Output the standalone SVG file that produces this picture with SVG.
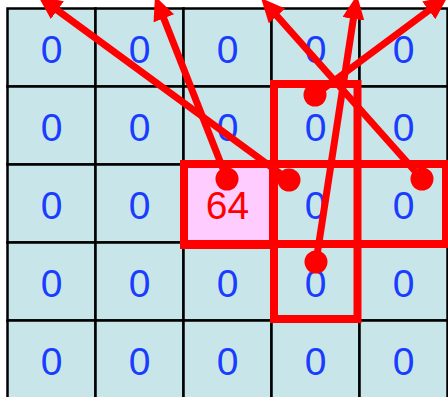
<svg xmlns="http://www.w3.org/2000/svg" width="448" height="397" viewBox="0 0 448 397">
<defs>
<style>
.c{fill:#c8e6ea;stroke:#000;stroke-width:2.5}
.p{fill:#ffccff;stroke:#000;stroke-width:2.5}
.t{font-family:"Liberation Sans",Arial,sans-serif;font-size:39px;fill:#1a3cff;text-anchor:middle}
.tr{fill:#ff0000}
.box{fill:none;stroke:#ff0000;stroke-width:8}
.arr{stroke:#ff0000;stroke-width:7;fill:none;marker-end:url(#ah)}
.dot{fill:#ff0000}
</style>
<marker id="ah" markerUnits="userSpaceOnUse" markerWidth="24" markerHeight="22" viewBox="0 0 24 22" refX="12" refY="11" orient="auto">
<path d="M0,0 L24,11 L0,22 z" fill="#ff0000"/>
</marker>
</defs>
<rect width="448" height="397" fill="#ffffff"/>
<g id="r0c0"><rect class="c" x="7.5" y="8.5" width="88" height="78"/><text class="t" x="51.5" y="62.5">0</text></g>
<g id="r0c1"><rect class="c" x="95.5" y="8.5" width="88" height="78"/><text class="t" x="139.5" y="62.5">0</text></g>
<g id="r0c2"><rect class="c" x="183.5" y="8.5" width="88" height="78"/><text class="t" x="227.5" y="62.5">0</text></g>
<g id="r0c3"><rect class="c" x="271.5" y="8.5" width="88" height="78"/><text class="t" x="315.5" y="62.5">0</text></g>
<g id="r0c4"><rect class="c" x="359.5" y="8.5" width="88" height="78"/><text class="t" x="403.5" y="62.5">0</text></g>
<g id="r1c0"><rect class="c" x="7.5" y="86.5" width="88" height="78"/><text class="t" x="51.5" y="140.5">0</text></g>
<g id="r1c1"><rect class="c" x="95.5" y="86.5" width="88" height="78"/><text class="t" x="139.5" y="140.5">0</text></g>
<g id="r1c2"><rect class="c" x="183.5" y="86.5" width="88" height="78"/><text class="t" x="227.5" y="140.5">0</text></g>
<g id="r1c3"><rect class="c" x="271.5" y="86.5" width="88" height="78"/><text class="t" x="315.5" y="140.5">0</text></g>
<g id="r1c4"><rect class="c" x="359.5" y="86.5" width="88" height="78"/><text class="t" x="403.5" y="140.5">0</text></g>
<g id="r2c0"><rect class="c" x="7.5" y="164.5" width="88" height="78"/><text class="t" x="51.5" y="218.5">0</text></g>
<g id="r2c1"><rect class="c" x="95.5" y="164.5" width="88" height="78"/><text class="t" x="139.5" y="218.5">0</text></g>
<g id="r2c2"><rect class="p" x="183.5" y="164.5" width="88" height="78"/><text class="t tr" x="227.5" y="218.5">64</text></g>
<g id="r2c3"><rect class="c" x="271.5" y="164.5" width="88" height="78"/><text class="t" x="315.5" y="218.5">0</text></g>
<g id="r2c4"><rect class="c" x="359.5" y="164.5" width="88" height="78"/><text class="t" x="403.5" y="218.5">0</text></g>
<g id="r3c0"><rect class="c" x="7.5" y="242.5" width="88" height="78"/><text class="t" x="51.5" y="296.5">0</text></g>
<g id="r3c1"><rect class="c" x="95.5" y="242.5" width="88" height="78"/><text class="t" x="139.5" y="296.5">0</text></g>
<g id="r3c2"><rect class="c" x="183.5" y="242.5" width="88" height="78"/><text class="t" x="227.5" y="296.5">0</text></g>
<g id="r3c3"><rect class="c" x="271.5" y="242.5" width="88" height="78"/><text class="t" x="315.5" y="296.5">0</text></g>
<g id="r3c4"><rect class="c" x="359.5" y="242.5" width="88" height="78"/><text class="t" x="403.5" y="296.5">0</text></g>
<g id="r4c0"><rect class="c" x="7.5" y="320.5" width="88" height="78"/><text class="t" x="51.5" y="374.5">0</text></g>
<g id="r4c1"><rect class="c" x="95.5" y="320.5" width="88" height="78"/><text class="t" x="139.5" y="374.5">0</text></g>
<g id="r4c2"><rect class="c" x="183.5" y="320.5" width="88" height="78"/><text class="t" x="227.5" y="374.5">0</text></g>
<g id="r4c3"><rect class="c" x="271.5" y="320.5" width="88" height="78"/><text class="t" x="315.5" y="374.5">0</text></g>
<g id="r4c4"><rect class="c" x="359.5" y="320.5" width="88" height="78"/><text class="t" x="403.5" y="374.5">0</text></g>
<g id="highlights">
<rect class="box" x="184" y="164" width="89" height="81"/>
<rect class="box" x="274" y="84" width="83.5" height="235"/>
<rect class="box" x="184" y="164" width="262" height="80"/>
</g>
<g id="connectors">
<line class="arr" x1="289" y1="180" x2="47.7" y2="3.1"/>
<line class="arr" x1="227" y1="179" x2="159.4" y2="7.2"/>
<line class="arr" x1="422" y1="179" x2="269" y2="7"/>
<line class="arr" x1="316" y1="262" x2="355.2" y2="6.9"/>
<line class="arr" x1="315" y1="95" x2="438.4" y2="3.2"/>
</g>
<g id="dots">
<circle class="dot" cx="227" cy="179" r="11.5"/>
<circle class="dot" cx="289" cy="180" r="11.5"/>
<circle class="dot" cx="315" cy="95" r="11.5"/>
<circle class="dot" cx="422" cy="179" r="11.5"/>
<circle class="dot" cx="316" cy="262" r="11.5"/>
</g>
</svg>
